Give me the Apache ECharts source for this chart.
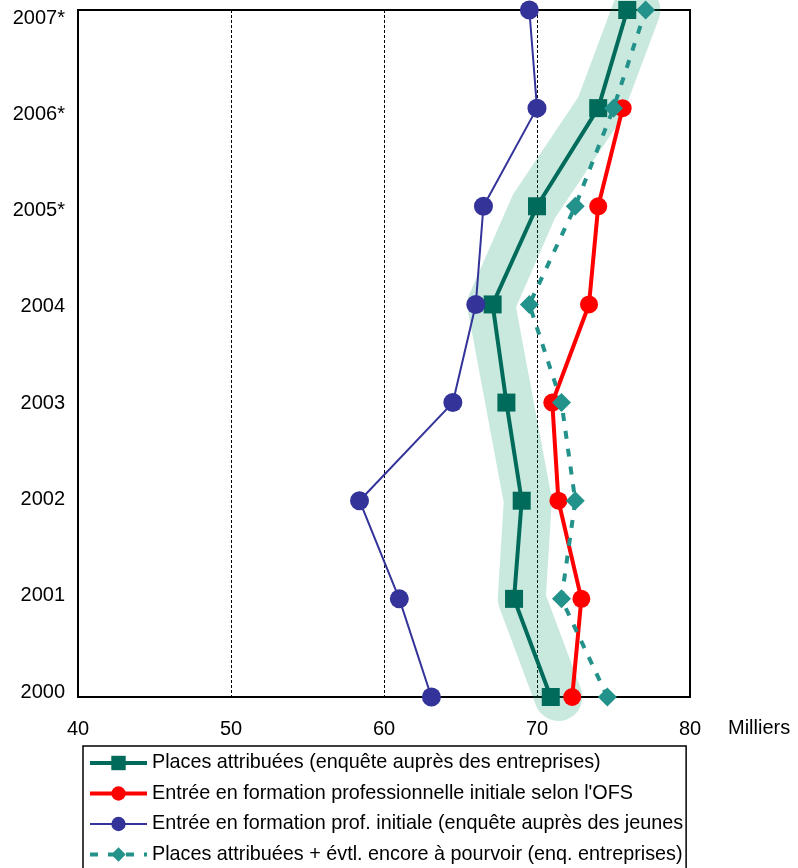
<!DOCTYPE html>
<html>
<head>
<meta charset="utf-8">
<script src="https://cdn.jsdelivr.net/npm/echarts@6/dist/echarts.min.js"></script>
<style>
html,body{margin:0;padding:0;background:#fff;}
#chart{width:798px;height:868px;}
</style>
</head>
<body>
<div id="chart"></div>
<script>
// Years (bottom to top)
var years = ['2000', '2001', '2002', '2003', '2004', '2005*', '2006*', '2007*'];
var xTicks = [40, 50, 60, 70, 80];

// Series values (milliers)
var placesAttribuees = [70.9, 68.5, 69.0, 68.0, 67.1, 70.0, 74.0, 75.9];
var entreeOFS = [72.3, 72.9, 71.4, 71.0, 73.4, 74.0, 75.6, null];
var entreeJeunes = [63.1, 61.0, 58.4, 64.5, 66.0, 66.5, 70.0, 69.5];
var placesPlusPourvoir = [74.6, 71.6, 72.5, 71.6, 69.5, 72.5, 75.0, 77.1];
// Highlighted trend band (light green)
var tendance = [71.4, 69.0, 69.4, 68.2, 67.0, 69.8, 74.1, 76.5];

var names = [
  'Places attribuées (enquête auprès des entreprises)',
  "Entrée en formation professionnelle initiale selon l'OFS",
  'Entrée en formation prof. initiale (enquête auprès des jeunes',
  'Places attribuées + évtl. encore à pourvoir (enq. entreprises)'
];

var FONT = '"Liberation Sans", Arial, sans-serif';

// label vertical nudges (labels are evenly spread slightly tighter than the points)
var labelRich = {};
years.forEach(function (y, i) {
  var d = Math.round(-5 + 1.85 * i);
  labelRich['r' + i] = {
    fontSize: 20, color: '#000', fontFamily: FONT,
    padding: d >= 0 ? [2 * d, 0, 0, 0] : [0, 0, -2 * d, 0]
  };
});

var legendWidths = [4, 4, 2, 4];
var legendData = names.map(function (n, i) {
  return {name: n, lineStyle: {width: legendWidths[i]}};
});

var chart = echarts.init(document.getElementById('chart'), null, {renderer: 'canvas'});

chart.setOption({
  animation: false,
  backgroundColor: '#ffffff',
  textStyle: {fontFamily: FONT},
  grid: {
    left: 78, right: 108, top: 10, bottom: 171,
    show: true, borderColor: '#000', borderWidth: 2, backgroundColor: 'transparent'
  },
  xAxis: {
    type: 'value',
    min: xTicks[0], max: xTicks[xTicks.length - 1], interval: 10,
    axisLine: {show: false},
    axisTick: {show: false},
    axisLabel: {fontSize: 20, color: '#000', margin: 22, fontFamily: FONT},
    splitLine: {show: true, lineStyle: {color: '#000', width: 1, type: [3, 2]}}
  },
  yAxis: {
    type: 'category',
    data: years,
    boundaryGap: false,
    axisLine: {show: false},
    axisTick: {show: false},
    axisLabel: {
      fontSize: 20, color: '#000', margin: 13, fontFamily: FONT,
      formatter: function (v, i) { return '{r' + i + '|' + v + '}'; },
      rich: labelRich
    },
    splitLine: {show: false}
  },
  legend: {
    orient: 'vertical',
    left: 83, top: 746, height: 300,
    data: legendData,
    itemWidth: 57, itemHeight: 18, itemGap: 10.5,
    padding: [7, 3, 12, 5],
    borderColor: '#000', borderWidth: 1.5,
    textStyle: {fontSize: 19.8, color: '#000', fontFamily: FONT},
    selectedMode: false
  },
  graphic: [{
    type: 'text', left: 728, top: 718,
    style: {text: 'Milliers', fontSize: 20, fill: '#000', font: '20px ' + FONT}
  }],
  series: [
    {
      name: 'tendance', type: 'line', data: tendance,
      symbol: 'none', clip: false, silent: true,
      lineStyle: {color: 'rgba(0,150,100,0.21)', width: 48, cap: 'round', join: 'round'},
      z: 1
    },
    {
      name: names[0], type: 'line', data: placesAttribuees,
      symbol: 'rect', symbolSize: 18, clip: false,
      itemStyle: {color: '#006b5a'},
      lineStyle: {color: '#006b5a', width: 4}, z: 3
    },
    {
      name: names[1], type: 'line', data: entreeOFS,
      symbol: 'circle', symbolSize: 18, clip: false,
      itemStyle: {color: '#ff0000'},
      lineStyle: {color: '#ff0000', width: 4}, z: 4
    },
    {
      name: names[2], type: 'line', data: entreeJeunes,
      symbol: 'circle', symbolSize: 19, clip: false,
      itemStyle: {color: '#333399'},
      lineStyle: {color: '#333399', width: 2}, z: 5
    },
    {
      name: names[3], type: 'line', data: placesPlusPourvoir,
      symbol: 'diamond', symbolSize: 19, clip: false,
      itemStyle: {color: '#22928a'},
      lineStyle: {color: '#22928a', width: 4, type: [8, 10]}, z: 6
    }
  ]
});
</script>
</body>
</html>
